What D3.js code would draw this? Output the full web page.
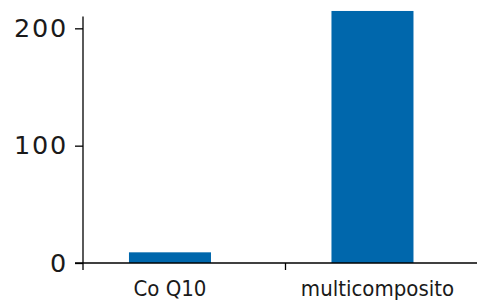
<!DOCTYPE html>
<html>
<head>
<meta charset="utf-8">
<script src="https://cdn.jsdelivr.net/npm/d3@7"></script>
<style>
  html, body { margin: 0; padding: 0; background: #fff; }
  svg { display: block; }
</style>
</head>
<body>
<svg id="chart" width="477" height="304"></svg>
<script>
const categories = ["Co Q10", "multicomposito"];
const values = [9.1, 214.8];
const yTicks = [0, 100, 200];

const W = 477, H = 304;
const svg = d3.select("#chart");

const x0 = 83, y0 = 263;
const y = d3.scaleLinear().domain([0, 210]).range([y0, 16.6]);
const x = d3.scaleBand().domain(categories).range([x0, 488]).paddingInner(0).paddingOuter(0);
const bw = x.bandwidth();
const barW = bw * 0.405;
const barOff = bw * 0.227;

// bars
svg.append("g").selectAll("rect").data(categories).join("rect")
  .attr("x", d => x(d) + barOff)
  .attr("width", barW)
  .attr("y", (d, i) => y(values[i]))
  .attr("height", (d, i) => y(0) - y(values[i]))
  .attr("fill", "#0067ac");

// y axis
const yAxis = d3.axisLeft(y).tickValues(yTicks).tickSize(8).tickPadding(9).tickSizeOuter(0);
const gy = svg.append("g").attr("transform", `translate(${x0},0)`).call(yAxis);
gy.select(".domain").remove();
gy.selectAll(".tick line").attr("stroke", "#000").attr("stroke-width", 1.3);
gy.selectAll(".tick text")
  .attr("font-family", "DejaVu Sans, sans-serif")
  .attr("font-size", 25.5)
  .attr("letter-spacing", "1.8px")
  .attr("fill", "#1a1a1a")
  .attr("dx", 2);

svg.append("line")
  .attr("x1", x0).attr("x2", x0)
  .attr("y1", y.range()[1]).attr("y2", y0 + 7)
  .attr("stroke", "#000").attr("stroke-width", 1.3);

// x axis
svg.append("line")
  .attr("x1", x0 - 8).attr("x2", W)
  .attr("y1", y0).attr("y2", y0)
  .attr("stroke", "#000").attr("stroke-width", 1.5);

svg.append("g").selectAll("line").data(categories.slice(1)).join("line")
  .attr("x1", d => x(d)).attr("x2", d => x(d))
  .attr("y1", y0).attr("y2", y0 + 7)
  .attr("stroke", "#000").attr("stroke-width", 1.3);

svg.append("g").selectAll("text").data(categories).join("text")
  .attr("x", (d, i) => x(d) + barOff + barW / 2 + i * 5)
  .attr("y", 295.5)
  .attr("text-anchor", "middle")
  .attr("font-family", "DejaVu Sans Condensed, DejaVu Sans, sans-serif")
  .attr("font-stretch", "condensed")
  .attr("font-size", 22)
  .attr("fill", "#1a1a1a")
  .text(d => d);
</script>
</body>
</html>
